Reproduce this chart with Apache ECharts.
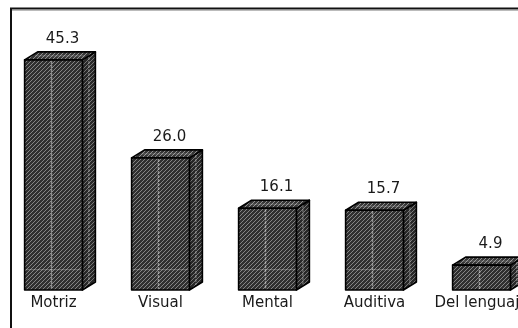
<!DOCTYPE html>
<html>
<head>
<meta charset="utf-8">
<script src="https://cdn.jsdelivr.net/npm/echarts@6/dist/echarts.min.js"></script>
<style>
html,body{margin:0;padding:0;background:#fff;}
#chart{width:518px;height:328px;}
</style>
</head>
<body>
<div id="chart"></div>
<script>
var categories = ['Motriz', 'Visual', 'Mental', 'Auditiva', 'Del lenguaje'];
var values = [45.3, 26.0, 16.1, 15.7, 4.9];
var valueLabels = ['45.3', '26.0', '16.1', '15.7', '4.9'];
var refLineValue = 4;

function makePattern(bg, fg) {
  var c = document.createElement('canvas');
  c.width = 4; c.height = 4;
  var ctx = c.getContext('2d');
  ctx.fillStyle = bg; ctx.fillRect(0, 0, 4, 4);
  ctx.strokeStyle = fg; ctx.lineWidth = 1;
  ctx.beginPath();
  ctx.moveTo(-1, 5); ctx.lineTo(5, -1);
  ctx.moveTo(-1, 1); ctx.lineTo(1, -1);
  ctx.moveTo(3, 5); ctx.lineTo(5, 3);
  ctx.stroke();
  return c;
}
var frontPat = { image: makePattern('#303030', '#858585'), repeat: 'repeat' };
var sidePat = { image: makePattern('#282828', '#767676'), repeat: 'repeat' };
var topPat = { image: makePattern('#363636', '#909090'), repeat: 'repeat' };

var DX = 13, DY = 8;

var chart = echarts.init(document.getElementById('chart'));
chart.setOption({
  animation: false,
  grid: { left: 0, width: 535, top: 36, bottom: 38, outerBoundsMode: 'none', containLabel: false },
  xAxis: {
    type: 'category',
    data: categories,
    axisLine: { show: false },
    axisTick: { show: false },
    axisLabel: { margin: 6, fontFamily: 'DejaVu Sans', fontSize: 15, color: '#1a1a1a', interval: 0, hideOverlap: false }
  },
  yAxis: { type: 'value', min: 0, max: 50, show: false, splitLine: { show: false } },
  graphic: [{
    type: 'rect', silent: true,
    shape: { x: 11, y: 8.5, width: 520, height: 340 },
    style: { fill: 'none', stroke: '#111', lineWidth: 2 }
  }, {
    type: 'line', silent: true,
    shape: { x1: 12, y1: 10.5, x2: 518, y2: 10.5 },
    style: { stroke: '#bbb', lineWidth: 1 }
  }],
  series: [{
    type: 'custom',
    data: values.map(function (v, i) { return [i, v]; }),
    renderItem: function (params, api) {
      var idx = api.value(0), v = api.value(1);
      var top = api.coord([idx, v]);
      var bot = api.coord([idx, 0]);
      var band = api.size([1, 0])[0];
      var w = band * 0.54;
      var x0 = top[0] - w / 2, x1 = top[0] + w / 2;
      var yT = top[1], yB = bot[1];
      var outline = { stroke: '#000', lineWidth: 1.6, lineJoin: 'round' };
      var children = [];
      children.push({ type: 'polygon', shape: { points: [[x1, yT], [x1 + DX, yT - DY], [x1 + DX, yB - DY], [x1, yB]] },
        style: Object.assign({ fill: sidePat }, outline) });
      children.push({ type: 'polygon', shape: { points: [[x0, yT], [x0 + DX, yT - DY], [x1 + DX, yT - DY], [x1, yT]] },
        style: Object.assign({ fill: topPat }, outline) });
      children.push({ type: 'rect', shape: { x: x0, y: yT, width: w, height: yB - yT },
        style: Object.assign({ fill: frontPat }, outline) });
      children.push({ type: 'line', shape: { x1: top[0] - 2, y1: yT + 1, x2: top[0] - 2, y2: yB - 1 },
        style: { stroke: 'rgba(255,255,255,0.45)', lineWidth: 1.5, lineDash: [3, 1] } });
      children.push({ type: 'line', shape: { x1: x1 + DX / 2, y1: yT - DY / 2 + 1, x2: x1 + DX / 2, y2: yB - DY / 2 - 1 },
        style: { stroke: 'rgba(255,255,255,0.35)', lineWidth: 1.2, lineDash: [3, 1] } });
      children.push({ type: 'line', shape: { x1: x0 + DX / 2 + 4, y1: yT - DY / 2, x2: x1 + DX / 2 - 4, y2: yT - DY / 2 },
        style: { stroke: 'rgba(255,255,255,0.25)', lineWidth: 1 } });
      if (v > refLineValue * 1.6) {
        var yr = api.coord([idx, refLineValue])[1];
        children.push({ type: 'line', shape: { x1: x0 + 1, y1: yr, x2: x1 - 1, y2: yr },
          style: { stroke: 'rgba(255,255,255,0.3)', lineWidth: 1 } });
      }
      children.push({ type: 'text', style: { text: valueLabels[idx], x: top[0] + 9, y: yT - 21,
        align: 'center', verticalAlign: 'middle', fontFamily: 'DejaVu Sans', fontSize: 15, fill: '#1a1a1a' } });
      return { type: 'group', children: children };
    }
  }]
});
</script>
</body>
</html>
